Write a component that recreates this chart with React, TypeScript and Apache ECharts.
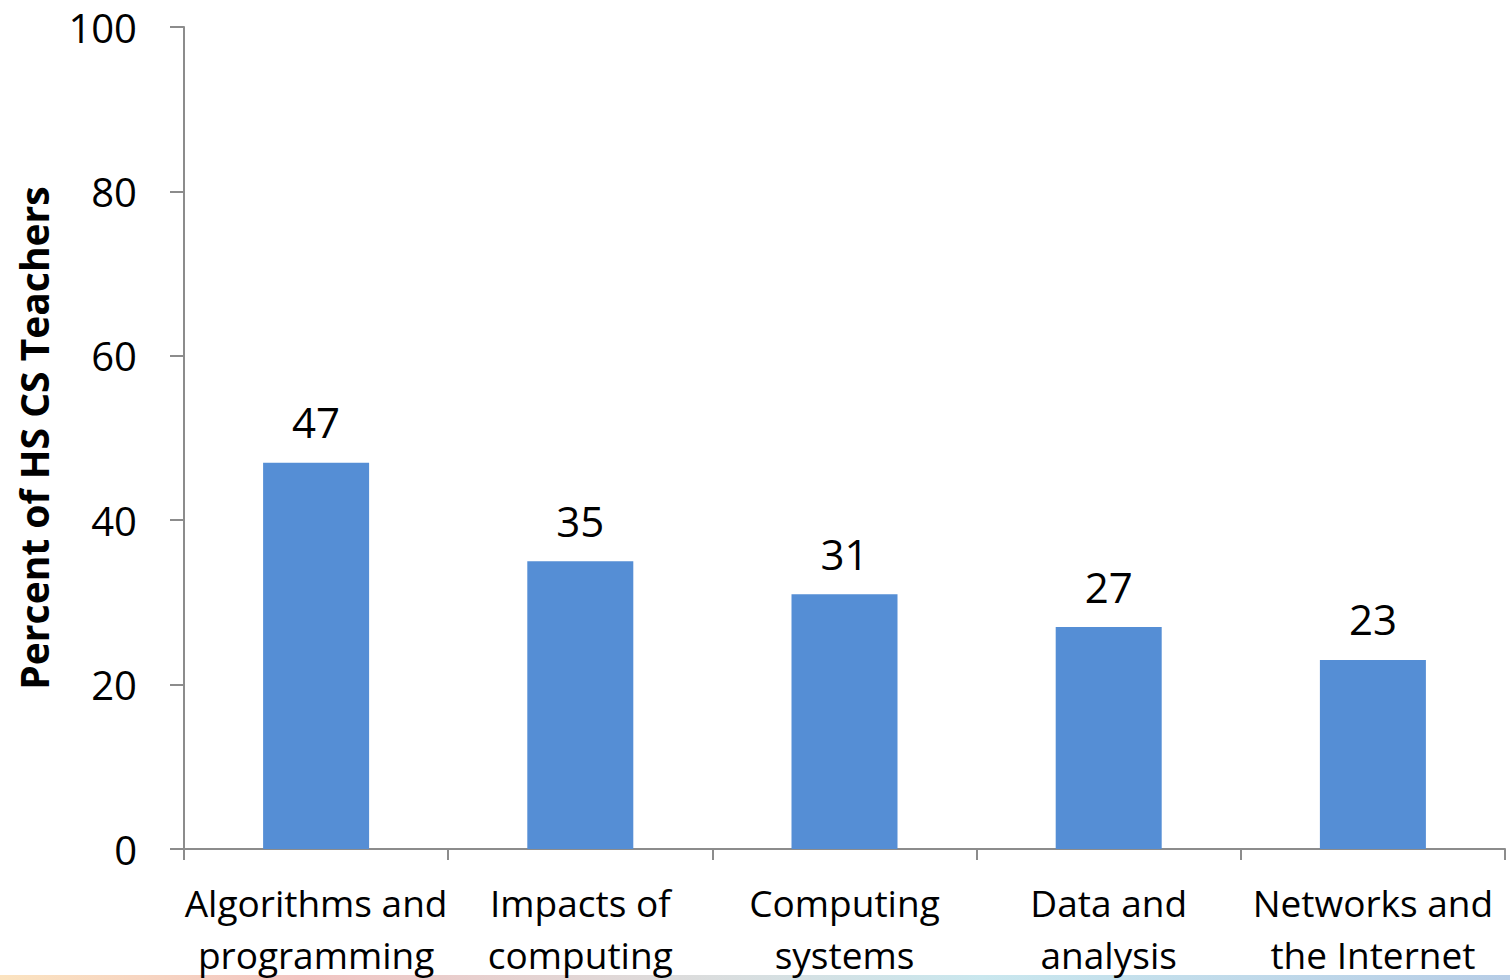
import React, { useEffect, useRef } from "react";
import * as echarts from "echarts";

const categories = [
  "Algorithms and\nprogramming",
  "Impacts of\ncomputing",
  "Computing\nsystems",
  "Data and\nanalysis",
  "Networks and\nthe Internet",
];
const values = [47, 35, 31, 27, 23];
const yTicks = { min: 0, max: 100, interval: 20 };
const yAxisTitle = "Percent of HS CS Teachers";

const FONT = "'Open Sans', 'Noto Sans', sans-serif";

export default function App() {
  const ref = useRef<HTMLDivElement>(null);
  useEffect(() => {
    if (!ref.current) return;
    const chart = echarts.init(ref.current, null, { renderer: "svg" });
    chart.setOption({
      animation: false,
      backgroundColor: "#ffffff",
      grid: { left: 184, right: 5, top: 27, bottom: 129, containLabel: false },
      xAxis: {
        type: "category",
        data: categories,
        axisLine: { lineStyle: { color: "#8c8c8c", width: 2 } },
        axisTick: { show: true, length: 11, alignWithLabel: false, lineStyle: { color: "#8c8c8c", width: 2 } },
        axisLabel: {
          color: "#000",
          fontFamily: FONT,
          fontSize: 37,
          lineHeight: 52,
          margin: 27,
          interval: 0,
        },
      },
      yAxis: {
        type: "value",
        min: yTicks.min,
        max: yTicks.max,
        interval: yTicks.interval,
        name: yAxisTitle,
        nameLocation: "middle",
        nameGap: 131,
        nameRotate: 90,
        nameTextStyle: { color: "#000", fontFamily: FONT, fontSize: 39, fontWeight: "bold" },
        splitLine: { show: false },
        axisLine: { show: true, lineStyle: { color: "#8c8c8c", width: 2 } },
        axisTick: { show: true, length: 14, lineStyle: { color: "#8c8c8c", width: 2 } },
        axisLabel: { color: "#000", fontFamily: FONT, fontSize: 40, margin: 47 },
      },
      series: [
        {
          type: "bar",
          data: values,
          barWidth: 106,
          itemStyle: { color: "#558ED5" },
          label: {
            show: true,
            position: "top",
            distance: 20,
            color: "#000",
            fontFamily: FONT,
            fontSize: 42,
          },
        },
      ],
      graphic: [
        {
          type: "rect",
          left: 0,
          top: 975,
          shape: { width: 1510, height: 5 },
          style: {
            fill: new echarts.graphic.LinearGradient(0, 0, 1, 0, [
              { offset: 0, color: "#FBE3C0" },
              { offset: 0.2, color: "#F2C4C2" },
              { offset: 0.45, color: "#DCDCDC" },
              { offset: 0.65, color: "#C9E7EE" },
              { offset: 1, color: "#B7CDE6" },
            ]),
          },
          silent: true,
        },
      ],
    });
    return () => chart.dispose();
  }, []);
  return (
    <div
      ref={ref}
      style={{ position: "fixed", left: 0, top: 0, width: 1510, height: 980 }}
    />
  );
}
